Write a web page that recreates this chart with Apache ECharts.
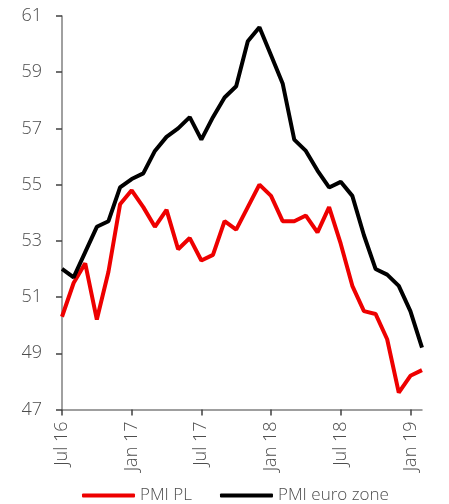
<!DOCTYPE html>
<html>
<head>
<meta charset="utf-8">
<script src="https://cdn.jsdelivr.net/npm/echarts@6/dist/echarts.min.js"></script>
<style>
  html, body { margin: 0; padding: 0; background: #fff; }
  #chart { width: 449px; height: 504px; }
</style>
</head>
<body>
<div id="chart"></div>
<script>
// months Jul 16 .. Feb 19
const months = [
  'Jul 16', 'Aug 16', 'Sep 16', 'Oct 16', 'Nov 16', 'Dec 16',
  'Jan 17', 'Feb 17', 'Mar 17', 'Apr 17', 'May 17', 'Jun 17',
  'Jul 17', 'Aug 17', 'Sep 17', 'Oct 17', 'Nov 17', 'Dec 17',
  'Jan 18', 'Feb 18', 'Mar 18', 'Apr 18', 'May 18', 'Jun 18',
  'Jul 18', 'Aug 18', 'Sep 18', 'Oct 18', 'Nov 18', 'Dec 18',
  'Jan 19', 'Feb 19'
]
const pmiPL = [
  50.3, 51.5, 52.2, 50.2, 51.9, 54.3,
  54.8, 54.2, 53.5, 54.1, 52.7, 53.1,
  52.3, 52.5, 53.7, 53.4, 54.2, 55.0,
  54.6, 53.7, 53.7, 53.9, 53.3, 54.2,
  52.9, 51.4, 50.5, 50.4, 49.5, 47.6,
  48.2, 48.4
]
const pmiEuro = [
  52.0, 51.7, 52.6, 53.5, 53.7, 54.9,
  55.2, 55.4, 56.2, 56.7, 57.0, 57.4,
  56.6, 57.4, 58.1, 58.5, 60.1, 60.6,
  59.6, 58.6, 56.6, 56.2, 55.5, 54.9,
  55.1, 54.6, 53.2, 52.0, 51.8, 51.4,
  50.5, 49.2
]

const textColor = '#4d4d4d'
const axisColor = '#808080'
const fontFamily = '"Open Sans", sans-serif'

const chart = echarts.init(document.getElementById('chart'))
const everySix = (i) => i % 6 === 0

chart.setOption({
  animation: false,
  grid: { left: 62, right: 27, top: 16, bottom: 94.5 },
  legend: {
    top: 482,
    left: 77,
    icon: 'roundRect',
    itemWidth: 53,
    itemHeight: 4,
    itemGap: 28,
    textStyle: { color: textColor, fontSize: 17, fontWeight: 300, fontFamily: fontFamily },
    data: ['PMI PL', 'PMI euro zone']
  },
  xAxis: {
    type: 'category',
    data: months,
    boundaryGap: false,
    axisLine: { lineStyle: { color: axisColor, width: 1.5 } },
    axisTick: { length: 6, interval: everySix, lineStyle: { color: '#404040', width: 1.5 } },
    axisLabel: {
      interval: everySix,
      rotate: 90,
      margin: 12,
      color: textColor,
      fontSize: 18,
      fontWeight: 300,
      fontFamily: fontFamily
    },
    splitLine: { show: false }
  },
  yAxis: {
    type: 'value',
    min: 47,
    max: 61,
    interval: 2,
    axisLine: { show: true, lineStyle: { color: axisColor, width: 1.5 } },
    axisTick: { show: true, length: 6, lineStyle: { color: '#404040', width: 1.5 } },
    axisLabel: { margin: 20, color: textColor, fontSize: 18, fontWeight: 300, fontFamily: fontFamily },
    splitLine: { show: false }
  },
  series: [
    {
      name: 'PMI PL',
      type: 'line',
      data: pmiPL,
      symbol: 'none',
      lineStyle: { color: '#ee0000', width: 4 },
      itemStyle: { color: '#ee0000' }
    },
    {
      name: 'PMI euro zone',
      type: 'line',
      data: pmiEuro,
      symbol: 'none',
      lineStyle: { color: '#000', width: 4 },
      itemStyle: { color: '#000' }
    }
  ]
})
</script>
</body>
</html>
